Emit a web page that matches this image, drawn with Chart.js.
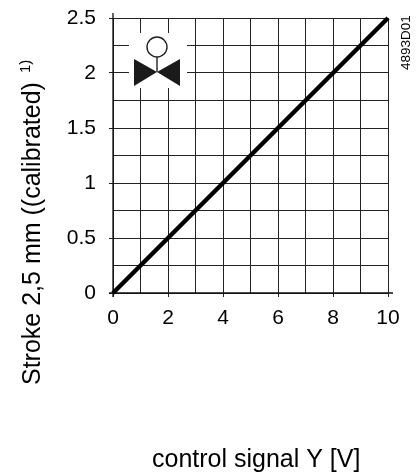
<!DOCTYPE html>
<html>
<head>
<meta charset="utf-8">
<style>
html, body { margin: 0; padding: 0; background: #fff; }
canvas { display: block; }
</style>
<script src="https://cdn.jsdelivr.net/npm/chart.js@4"></script>
</head>
<body>
<canvas id="myChart" width="419" height="473"></canvas>
<script>
const signal = [0, 10];
const stroke = [0, 2.5];
const xTickLabels = [0, 2, 4, 6, 8, 10];
const yTickLabels = [0, 0.5, 1, 1.5, 2, 2.5];
const xTitle = 'control signal Y [V]';
const yTitle = 'Stroke 2,5 mm ((calibrated)';
const yTitleNote = '1)';
const drawingId = '4893D01';

const font = '"Liberation Sans", Arial, sans-serif';
const ink = '#222';

function rotatedText(ctx, text, x, y, size) {
    ctx.save();
    ctx.translate(x, y);
    ctx.rotate(-Math.PI / 2);
    ctx.font = size + 'px ' + font;
    ctx.textAlign = 'left';
    ctx.textBaseline = 'alphabetic';
    ctx.fillStyle = '#000';
    ctx.fillText(text, 0, 0);
    ctx.restore();
}

// axis overshoot, valve symbol and free standing texts
const extras = {
    id: 'extras',
    beforeDatasetsDraw(chart) {
        const ctx = chart.ctx;
        const area = chart.chartArea;
        ctx.save();
        ctx.strokeStyle = '#111';
        ctx.lineWidth = 1.3;
        ctx.beginPath();
        ctx.moveTo(area.left, area.top - 5);
        ctx.lineTo(area.left, area.bottom + 4);
        ctx.moveTo(area.left - 4, area.bottom);
        ctx.lineTo(area.right + 5, area.bottom);
        ctx.stroke();

        // valve symbol
        ctx.fillStyle = '#fff';
        ctx.fillRect(129, 33, 58, 55);
        ctx.fillStyle = '#1a1a1a';
        ctx.beginPath();
        ctx.moveTo(134, 59);
        ctx.lineTo(157, 72);
        ctx.lineTo(134, 86);
        ctx.closePath();
        ctx.moveTo(180, 59);
        ctx.lineTo(157, 72);
        ctx.lineTo(180, 86);
        ctx.closePath();
        ctx.fill();
        ctx.strokeStyle = '#222';
        ctx.lineWidth = 1.4;
        ctx.beginPath();
        ctx.arc(157, 47, 10, 0, Math.PI * 2);
        ctx.moveTo(157, 57);
        ctx.lineTo(157, 72);
        ctx.stroke();
        ctx.restore();
    },
    afterDraw(chart) {
        const ctx = chart.ctx;
        ctx.save();
        ctx.font = '25px ' + font;
        ctx.fillStyle = '#000';
        ctx.textAlign = 'left';
        ctx.textBaseline = 'alphabetic';
        ctx.fillText(xTitle, 152, 467);
        ctx.restore();
        rotatedText(ctx, yTitle, 40, 385, 25);
        rotatedText(ctx, yTitleNote, 30, 73, 15);
        rotatedText(ctx, drawingId, 410, 70, 13.5);
    }
};

const data = {
    datasets: [{
        data: signal.map((x, i) => ({ x: x, y: stroke[i] })),
        borderColor: '#000',
        borderWidth: 4.5,
        pointRadius: 0,
        tension: 0,
        clip: false
    }]
};

const config = {
    type: 'line',
    data: data,
    plugins: [extras],
    options: {
        responsive: false,
        animation: false,
        layout: { padding: { top: 18, right: 31, bottom: 0, left: 0 } },
        plugins: {
            legend: { display: false },
            tooltip: { enabled: false }
        },
        scales: {
            x: {
                type: 'linear',
                min: 0,
                max: 10,
                afterFit(scale) {
                    scale.height = 180;
                    scale.paddingLeft = 0;
                    scale.paddingRight = 0;
                },
                afterBuildTicks(scale) {
                    scale.ticks = [0, 1, 2, 3, 4, 5, 6, 7, 8, 9, 10].map(v => ({ value: v }));
                },
                grid: {
                    color: ink,
                    lineWidth: 1,
                    tickLength: 4,
                    tickColor: c => xTickLabels.includes(c.tick.value) ? ink : 'transparent'
                },
                border: { display: false },
                ticks: {
                    autoSkip: false,
                    maxRotation: 0,
                    padding: 9,
                    color: '#000',
                    font: { family: font, size: 21 },
                    callback: v => xTickLabels.includes(v) ? String(v) : ''
                }
            },
            y: {
                type: 'linear',
                min: 0,
                max: 2.5,
                afterFit(scale) {
                    scale.width = 113;
                    scale.paddingTop = 0;
                    scale.paddingBottom = 0;
                },
                afterBuildTicks(scale) {
                    scale.ticks = [0, 0.25, 0.5, 0.75, 1, 1.25, 1.5, 1.75, 2, 2.25, 2.5].map(v => ({ value: v }));
                },
                grid: {
                    color: ink,
                    lineWidth: 1,
                    tickLength: 4,
                    tickColor: c => yTickLabels.includes(c.tick.value) ? ink : 'transparent'
                },
                border: { display: false },
                ticks: {
                    autoSkip: false,
                    padding: 13,
                    color: '#000',
                    font: { family: font, size: 21 },
                    callback: v => yTickLabels.includes(v) ? String(v) : ''
                }
            }
        }
    }
};

var myChart = new Chart(document.getElementById('myChart'), config);
</script>
</body>
</html>
